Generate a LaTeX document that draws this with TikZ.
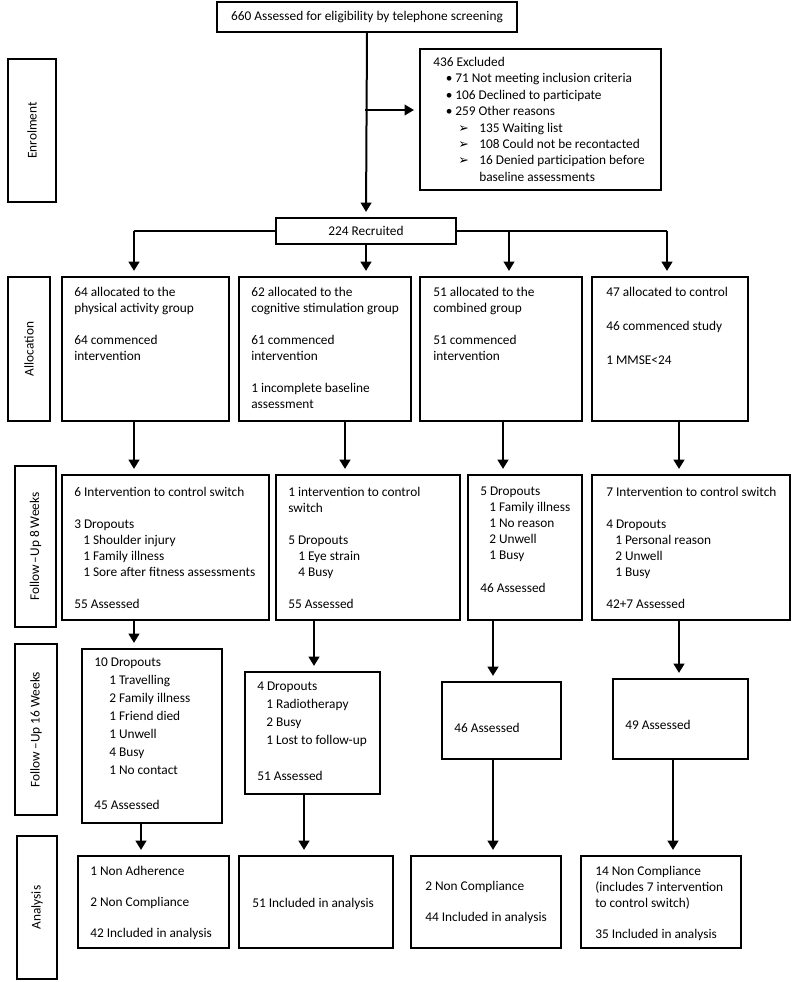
\documentclass[tikz,border=0pt]{standalone}
\usepackage{fontspec}
\setmainfont{Carlito}
\newfontfamily\dejavu{DejaVu Sans}
\usetikzlibrary{fit,arrows.meta,calc}
\newcommand\ind[1]{\hspace*{#1}}
\newcommand\arrbul{\makebox[15.75pt][l]{\dejavu\fontsize{9.5}{10}\selectfont ➢}}
\newcommand\dotbul{\makebox[6pt][l]{\hspace*{-1pt}\textbullet}}
\begin{document}
\begin{tikzpicture}[x=0.75pt,y=-0.75pt,
 box/.style={draw,line width=1.1pt,inner sep=0pt},
 txt/.style={inner sep=0pt,anchor=north west,align=left,font=\fontsize{10}{12}\selectfont},
 side/.style={rotate=90,inner sep=0pt,font=\fontsize{10}{12}\selectfont},
 arr/.style={line width=1.8pt,-{Triangle[width=8pt,length=7pt]},shorten >=4pt},
 link/.style={line width=1pt}]
\useasboundingbox (0,0) rectangle (795,982);

% ---------- side labels
\node[box,fit={(8,59)(56,202)}] (s1) {};
\node[side] at (s1.center) {Enrolment};
\node[box,fit={(8,277)(50,421)}] (s2) {};
\node[side] at (s2.center) {Allocation};
\node[box,fit={(15,466)(56,627)}] (s3) {};
\node[side] at (s3.center) {Follow\,--Up 8 Weeks};
\node[box,fit={(15,644)(57,815)}] (s4) {};
\node[side] at (s4.center) {Follow\,--Up 16 Weeks};
\node[box,fit={(17,836)(57,979)}] (s5) {};
\node[side] at (s5.center) {Analysis};

% ---------- enrolment
\node[box,fit={(217,2)(517,32)}] (top) {};
\node[txt,anchor=center] at (top.center) {660 Assessed for eligibility by telephone screening};
\node[box,fit={(420,49)(661,190)}] (excl) {};
\node[txt,font=\fontsize{10}{12.3}\selectfont] at (433,57) {436 Excluded\\
\ind{10.5pt}\dotbul 71 Not meeting inclusion criteria\\
\ind{10.5pt}\dotbul 106 Declined to participate\\
\ind{10.5pt}\dotbul 259 Other reasons\\
\ind{18.75pt}\arrbul 135 Waiting list\\
\ind{18.75pt}\arrbul 108 Could not be recontacted\\
\ind{18.75pt}\arrbul 16 Denied participation before\\
\ind{34.5pt}baseline assessments};
\node[box,fit={(276,218)(456,244)}] (rec) {};
\node[txt,anchor=center] at (rec.center) {224 Recruited};

% ---------- allocation
\node[box,fit={(62,277)(229,421)}] (a1) {};
\node[box,fit={(239,277)(411,421)}] (a2) {};
\node[box,fit={(420,277)(582,421)}] (a3) {};
\node[box,fit={(592,277)(748,421)}] (a4) {};
\node[txt] at (74,287) {64 allocated to the\\physical activity group\\[12pt]64 commenced\\intervention};
\node[txt] at (251,287) {62 allocated to the\\cognitive stimulation group\\[12pt]61 commenced\\intervention\\[12pt]1 incomplete baseline\\assessment};
\node[txt] at (433,287) {51 allocated to the\\combined group\\[12pt]51 commenced\\intervention};
\node[txt] at (606,287) {47 allocated to control\\[13.5pt]46 commenced study\\[13.5pt]1 MMSE<24};

% ---------- follow-up 8 weeks
\node[box,fit={(62,475)(269,620)}] (f1) {};
\node[box,fit={(276,475)(460,620)}] (f2) {};
\node[box,fit={(468,475)(582,620)}] (f3) {};
\node[box,fit={(592,475)(790,620)}] (f4) {};
\node[txt] at (74,487) {6 Intervention to control switch\\[12pt]3 Dropouts\\
\ind{6.75pt}1 Shoulder injury\\\ind{6.75pt}1 Family illness\\\ind{6.75pt}1 Sore after fitness assessments\\[12pt]55 Assessed};
\node[txt] at (288,487) {1 intervention to control\\switch\\[12pt]5 Dropouts\\
\ind{7.5pt}1 Eye strain\\\ind{7.5pt}4 Busy\\[12pt]55 Assessed};
\node[txt] at (480,487) {5 Dropouts\\\ind{6.75pt}1 Family illness\\\ind{6.75pt}1 No reason\\
\ind{6.75pt}2 Unwell\\\ind{6.75pt}1 Busy\\[12.75pt]46 Assessed};
\node[txt] at (606,487) {7 Intervention to control switch\\[12pt]4 Dropouts\\
\ind{6.75pt}1 Personal reason\\\ind{6.75pt}2 Unwell\\\ind{6.75pt}1 Busy\\[12pt]42+7 Assessed};

% ---------- follow-up 16 weeks
\node[box,fit={(82,649)(222,823)}] (g1) {};
\node[box,fit={(245,672)(380,794)}] (g2) {};
\node[box,fit={(442,682)(561,759)}] (g3) {};
\node[box,fit={(613,679)(748,759)}] (g4) {};
\node[txt,font=\fontsize{10}{13.5}\selectfont] at (94,658) {10 Dropouts\\
\ind{11.25pt}1 Travelling\\\ind{11.25pt}2 Family illness\\\ind{11.25pt}1 Friend died\\
\ind{11.25pt}1 Unwell\\\ind{11.25pt}4 Busy\\\ind{11.25pt}1 No contact\\[12.75pt]45 Assessed};
\node[txt,font=\fontsize{10}{13.5}\selectfont] at (257,682) {4 Dropouts\\
\ind{6.75pt}1 Radiotherapy\\\ind{6.75pt}2 Busy\\\ind{6.75pt}1 Lost to follow-up\\[13.5pt]51 Assessed};
\node[txt] at (454,723) {46 Assessed};
\node[txt] at (625,720) {49 Assessed};

% ---------- analysis
\node[box,fit={(78,856)(229,948)}] (n1) {};
\node[box,fit={(239,856)(393,948)}] (n2) {};
\node[box,fit={(411,856)(561,948)}] (n3) {};
\node[box,fit={(581,856)(741,948)}] (n4) {};
\node[txt] at (90,866) {1 Non Adherence\\[11pt]2 Non Compliance\\[11.5pt]42 Included in analysis};
\node[txt] at (252,898) {51 Included in analysis};
\node[txt] at (425,881) {2 Non Compliance\\[11.25pt]44 Included in analysis};
\node[txt] at (595,866) {14 Non Compliance\\(includes 7 intervention\\to control switch)\\[11.25pt]35 Included in analysis};

% ---------- connector columns
\coordinate (br) at (365,110);
\coordinate (r1) at (134,0);
\coordinate (r3) at (509,0);
\coordinate (r4) at (667,0);
\coordinate (x1) at (134,0);
\coordinate (x2) at (345,0);
\coordinate (x3) at (503,0);
\coordinate (x4) at (679,0);
\coordinate (y1) at (134,0);
\coordinate (y2) at (314,0);
\coordinate (y3) at (493,0);
\coordinate (y4) at (679,0);
\coordinate (z1) at (141,0);
\coordinate (z2) at (304,0);
\coordinate (z3) at (493,0);
\coordinate (z4) at (673,0);

% ---------- connectors
\draw[arr,line width=1.5pt] (top.south) -- (rec.north);
\draw[arr,line width=1.2pt] (br) -- (br -| excl.west);
\draw[link] (rec.west) -- (r1 |- rec.west);
\draw[link] (rec.east) -- (r4 |- rec.east);
\draw[arr] (r1 |- rec.west) -- (r1 |- a1.north);
\draw[arr] (rec.south) -- (rec.south |- a2.north);
\draw[arr,line width=1.4pt] (r3 |- rec.east) -- (r3 |- a3.north);
\draw[arr] (r4 |- rec.east) -- (r4 |- a4.north);

\draw[arr] (x1 |- a1.south) -- (x1 |- f1.north);
\draw[arr] (x2 |- a2.south) -- (x2 |- f2.north);
\draw[arr] (x3 |- a3.south) -- (x3 |- f3.north);
\draw[arr] (x4 |- a4.south) -- (x4 |- f4.north);

\draw[arr] (y1 |- f1.south) -- (y1 |- g1.north);
\draw[arr] (y2 |- f2.south) -- (y2 |- g2.north);
\draw[arr] (y3 |- f3.south) -- (y3 |- g3.north);
\draw[arr] (y4 |- f4.south) -- (y4 |- g4.north);

\draw[arr] (z1 |- g1.south) -- (z1 |- n1.north);
\draw[arr] (z2 |- g2.south) -- (z2 |- n2.north);
\draw[arr] (z3 |- g3.south) -- (z3 |- n3.north);
\draw[arr] (z4 |- g4.south) -- (z4 |- n4.north);
\end{tikzpicture}
\end{document}
